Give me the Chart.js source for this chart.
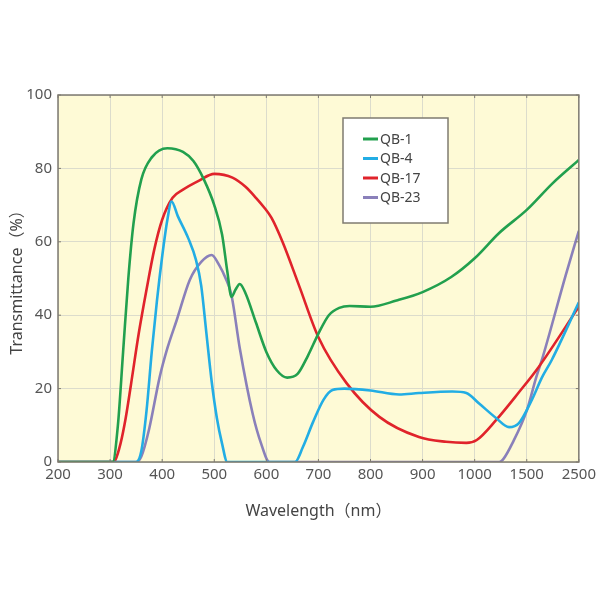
<!DOCTYPE html>
<html>
<head>
<meta charset="utf-8">
<script src="https://cdn.jsdelivr.net/npm/chart.js@4"></script>
<style>
  body { margin: 0; background: #fff; }
  #wrap { width: 600px; height: 600px; }
</style>
</head>
<body>
<div id="wrap"><canvas id="chart"></canvas></div>
<script>
const tickWavelengths = [200, 300, 400, 500, 600, 700, 800, 900, 1000, 1500, 2500];
const tickLabels = ["200", "300", "400", "500", "600", "700", "800", "900", "1000", "1500", "2500"];
const seriesNames = ["QB-1", "QB-4", "QB-17", "QB-23"];
const seriesColors = ["#22a04e", "#22ade4", "#e0232b", "#8a80ba"];

// wavelength (nm) and transmittance (%)
const qb1Wave = [200, 300, 305, 315, 325, 335, 345, 360, 380, 410, 440, 460, 480, 500, 515, 525, 533, 541, 549, 560, 580, 600, 620, 640, 660, 680, 700, 720, 740, 760, 800, 850, 900, 955, 1000, 1235, 1500, 2000, 2500];
const qb1Vals = [0, 0, 0, 10, 30, 50, 65, 77, 83, 85.5, 84.5, 82, 77, 70, 62, 52, 45, 47, 48.5, 46, 38, 30, 25, 23, 24, 29, 35, 40, 42, 42.5, 42.3, 44, 46.3, 50.4, 55.5, 62.4, 68.7, 76, 82.3];

const qb4Wave = [200, 340, 350, 360, 370, 380, 390, 400, 410, 418, 430, 450, 465, 475, 485, 495, 505, 515, 525, 655, 670, 690, 710, 727, 750, 800, 855, 893, 957, 984, 1040, 1205, 1330, 1425, 1600, 1790, 1980, 2500];
const qb4Vals = [0, 0, 0, 3, 14, 30, 44, 56, 66, 71, 67, 61, 55, 48, 35, 22, 12, 5, 0, 0, 4, 11, 17, 19.6, 20, 19.5, 18.4, 18.8, 19.2, 18.8, 16, 12, 9.5, 10.6, 17, 23, 27.8, 43.5];

const qb17Wave = [200, 305, 310, 320, 330, 340, 355, 370, 385, 400, 420, 440, 470, 500, 535, 560, 580, 595, 610, 631, 663, 700, 754, 817, 893, 945, 984, 1020, 1205, 1425, 1730, 2500];
const qb17Vals = [0, 0, 0.5, 5, 12, 21, 35, 47, 58, 66, 72, 74.2, 76.6, 78.5, 77.5, 75, 72, 69.5, 66.5, 60, 48, 34, 21.5, 12.3, 6.8, 5.5, 5.2, 6, 11.4, 19, 25.9, 42.3];

const qb23Wave = [200, 350, 360, 375, 395, 410, 428, 453, 475, 495, 510, 522, 533, 549, 574, 590, 606, 1000, 1235, 1280, 1360, 1500, 1680, 1790, 2250, 2500];
const qb23Vals = [0, 0, 1.5, 9, 23, 31, 38.7, 49.6, 54.5, 56.4, 53.5, 50, 45.5, 31, 13, 5, 0, 0, 0, 1, 5, 14, 23, 27.8, 51, 63];

const yTicks = [0, 20, 40, 60, 80, 100];

// the axis is piecewise linear between the labelled wavelengths
function pos(w) {
  for (let i = 0; i < tickWavelengths.length - 1; i++) {
    const a = tickWavelengths[i], b = tickWavelengths[i + 1];
    if (w <= b) return i + (w - a) / (b - a);
  }
  return tickWavelengths.length - 1;
}

function toPoints(waves, vals) {
  return waves.map((w, i) => ({ x: pos(w), y: vals[i] }));
}

const allWaves = [qb1Wave, qb4Wave, qb17Wave, qb23Wave];
const allVals = [qb1Vals, qb4Vals, qb17Vals, qb23Vals];

const frame = {
  id: 'frame',
  beforeDraw(c) {
    const a = c.chartArea, ctx = c.ctx;
    ctx.save();
    ctx.fillStyle = '#fefad6';
    ctx.fillRect(a.left, a.top, a.right - a.left, a.bottom - a.top);
    ctx.restore();
  },
  afterDatasetsDraw(c) {
    const a = c.chartArea, ctx = c.ctx;
    ctx.save();
    ctx.strokeStyle = '#7f7b70';
    ctx.lineWidth = 1.5;
    ctx.strokeRect(a.left, a.top, a.right - a.left, a.bottom - a.top);
    // small inward tick marks
    ctx.lineWidth = 1;
    c.scales.x.ticks.forEach(t => {
      const px = c.scales.x.getPixelForValue(t.value);
      ctx.beginPath();
      ctx.moveTo(px, a.top); ctx.lineTo(px, a.top + 3);
      ctx.moveTo(px, a.bottom); ctx.lineTo(px, a.bottom - 3);
      ctx.stroke();
    });
    c.scales.y.ticks.forEach(t => {
      const py = c.scales.y.getPixelForValue(t.value);
      ctx.beginPath();
      ctx.moveTo(a.left, py); ctx.lineTo(a.left + 3, py);
      ctx.moveTo(a.right, py); ctx.lineTo(a.right - 3, py);
      ctx.stroke();
    });

    // legend box
    const bx = 343, by = 118, bw = 105, bh = 105;
    ctx.fillStyle = '#ffffff';
    ctx.fillRect(bx, by, bw, bh);
    ctx.strokeStyle = '#7f7b70';
    ctx.lineWidth = 1.5;
    ctx.strokeRect(bx, by, bw, bh);
    ctx.font = '14px "Noto Sans", sans-serif';
    ctx.textBaseline = 'middle';
    c.data.datasets.forEach((ds, i) => {
      const y = by + 21 + i * 19.5;
      ctx.strokeStyle = ds.borderColor;
      ctx.lineWidth = 3;
      ctx.beginPath();
      ctx.moveTo(bx + 20, y); ctx.lineTo(bx + 35, y);
      ctx.stroke();
      ctx.fillStyle = '#444';
      ctx.fillText(ds.label, bx + 37, y + 1);
    });
    ctx.restore();
  }
};

Chart.defaults.font.family = '"Noto Sans", "Noto Sans CJK SC", sans-serif';
Chart.defaults.color = '#555';

new Chart(document.getElementById('chart'), {
  type: 'line',
  data: {
    datasets: seriesNames.map((name, i) => ({
      label: name,
      data: toPoints(allWaves[i], allVals[i]),
      borderColor: seriesColors[i],
      backgroundColor: seriesColors[i],
      borderWidth: 2.6,
      pointRadius: 0,
      cubicInterpolationMode: 'monotone',
      fill: false
    }))
  },
  options: {
    responsive: true,
    maintainAspectRatio: false,
    animation: false,
    layout: { padding: { top: 95, right: 20, bottom: 79, left: 4 } },
    plugins: {
      legend: { display: false },
      tooltip: { enabled: false }
    },
    scales: {
      x: {
        type: 'linear',
        min: 0,
        max: tickLabels.length - 1,
        afterBuildTicks: s => { s.ticks = tickLabels.map((_, i) => ({ value: i })); },
        ticks: {
          callback: v => tickLabels[v],
          font: { size: 15 },
          color: '#555',
          padding: 4,
          maxRotation: 0,
          autoSkip: false
        },
        grid: { color: '#dcdccc', drawTicks: false },
        border: { display: false },
        title: { display: true, text: 'Wavelength（nm）', font: { size: 16 }, color: '#444', padding: { top: 14, bottom: 0 } },
        afterFit: s => { s.height = 59; }
      },
      y: {
        min: 0,
        max: 100,
        afterBuildTicks: s => { s.ticks = yTicks.map(v => ({ value: v })); },
        ticks: { font: { size: 15 }, color: '#555', padding: 6 },
        grid: { color: '#dcdccc', drawTicks: false },
        border: { display: false },
        title: { display: true, text: 'Transmittance（%）', font: { size: 16 }, color: '#444', padding: { top: 4, bottom: 4 } },
        afterFit: s => { s.width = 54; }
      }
    }
  },
  plugins: [frame]
});
</script>
</body>
</html>
